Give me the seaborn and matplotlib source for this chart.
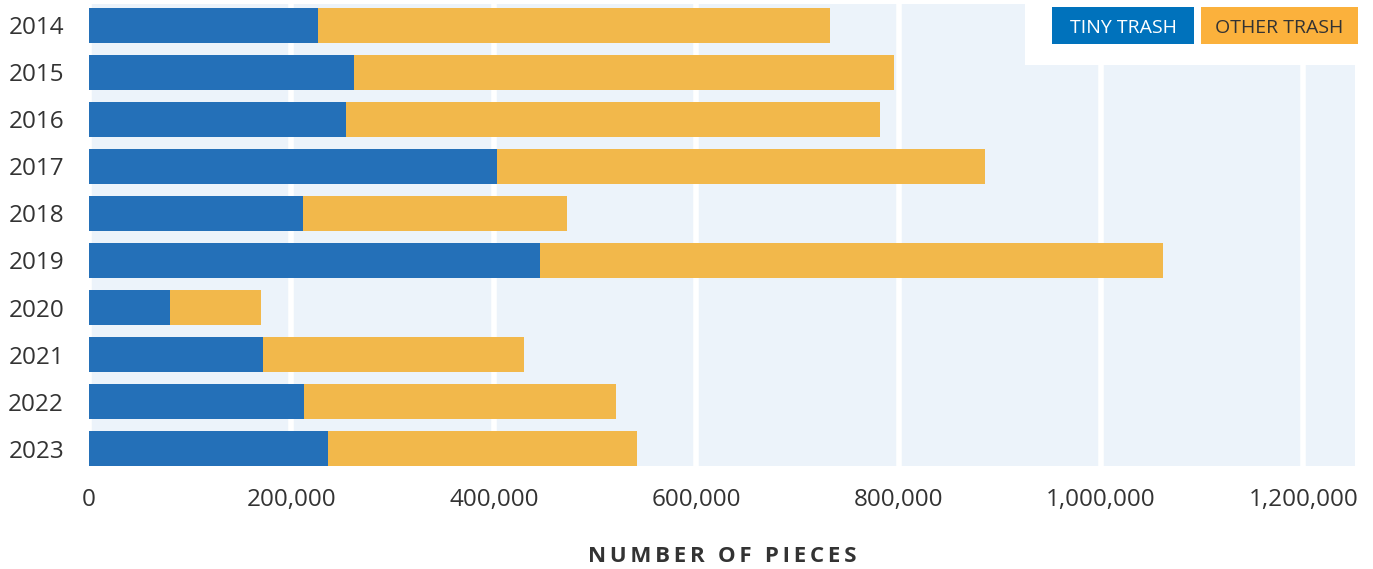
import matplotlib
matplotlib.use("Agg")
import matplotlib.pyplot as plt
import seaborn as sns
import pandas as pd
from matplotlib.patches import Rectangle
from matplotlib.ticker import FuncFormatter

years = ["2014", "2015", "2016", "2017", "2018", "2019", "2020", "2021", "2022", "2023"]
tiny_trash = [226000, 262000, 254000, 403000, 211000, 446000, 80000, 172000, 212000, 236000]
other_trash = [506000, 533000, 528000, 482000, 261000, 615000, 90000, 258000, 309000, 306000]
x_ticks = [0, 200000, 400000, 600000, 800000, 1000000, 1200000]

df = pd.DataFrame({"year": years, "tiny": tiny_trash, "other": other_trash})
df["total"] = df["tiny"] + df["other"]

sns.set_theme(style="white")
plt.rcParams["font.family"] = ["Open Sans", "DejaVu Sans"]

BLUE = "#2470b8"
ORANGE = "#f2b84b"
BG = "#ecf3fa"
TXT = "#333333"

fig = plt.figure(figsize=(13.73, 5.69), dpi=100)
ax = fig.add_axes([89 / 1373, 1 - 466 / 569, (1355 - 89) / 1373, (466 - 4) / 569])
ax.set_facecolor(BG)

sns.barplot(data=df, y="year", x="total", order=years, color=ORANGE, orient="h",
            width=0.74, saturation=1, ax=ax, zorder=3, linewidth=0)
sns.barplot(data=df, y="year", x="tiny", order=years, color=BLUE, orient="h",
            width=0.74, saturation=1, ax=ax, zorder=4, linewidth=0)

ax.set_xlim(0, 1251000)
ax.set_ylim(9.372, -0.457)
ax.set_xticks(x_ticks)
ax.xaxis.set_major_formatter(FuncFormatter(lambda v, p: f"{int(v):,}"))
ax.grid(axis="x", color="white", linewidth=4, zorder=1)
ax.grid(axis="y", visible=False)
ax.set_axisbelow(True)
for s in ax.spines.values():
    s.set_visible(False)
ax.tick_params(axis="both", length=0, labelsize=17.5, labelcolor=TXT)
ax.tick_params(axis="x", pad=16)
ax.tick_params(axis="y", pad=18)
ax.set_ylabel("")
label = "\u2006 \u2006".join("\u2006".join(w) for w in ["NUMBER", "OF", "PIECES"])
ax.set_xlabel(label, fontsize=16, fontweight="bold", color=TXT, labelpad=24)

# legend area
fig.patches.append(Rectangle((1025 / 1373, 1 - 65 / 569), (1373 - 1025) / 1373, 65 / 569,
                             transform=fig.transFigure, facecolor="white", edgecolor="none", zorder=5))
fig.patches.append(Rectangle((1052 / 1373, 1 - 44 / 569), (1194 - 1052) / 1373, 37 / 569,
                             transform=fig.transFigure, facecolor="#0072bc", edgecolor="none", zorder=6))
fig.patches.append(Rectangle((1201 / 1373, 1 - 44 / 569), (1358 - 1201) / 1373, 37 / 569,
                             transform=fig.transFigure, facecolor="#fbb13c", edgecolor="none", zorder=6))
fig.text((1052 + 1194) / 2 / 1373, 1 - 28 / 569, "TINY TRASH", ha="center", va="center",
         fontsize=14, color="white", zorder=7)
fig.text((1201 + 1358) / 2 / 1373, 1 - 28 / 569, "OTHER TRASH", ha="center", va="center",
         fontsize=14, color=TXT, zorder=7)

fig.savefig("out.png", dpi=100, facecolor="white")
